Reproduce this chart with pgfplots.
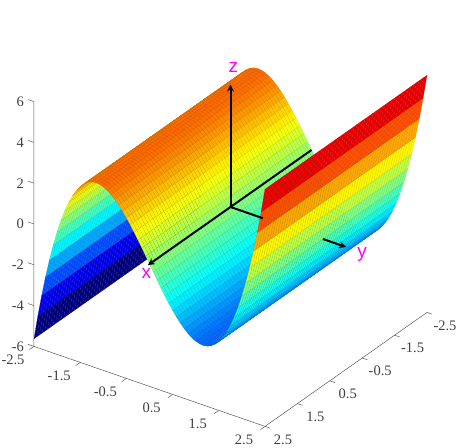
\documentclass[border=0pt]{standalone}
\usepackage{pgfplots}
\usepackage{pgfplotstable}
\pgfplotsset{compat=1.18}
\usepackage{fontspec}
\setmainfont{Liberation Serif}
\newfontfamily\lab{Liberation Sans}
\definecolor{axgray}{HTML}{5A5A5A}
\definecolor{txgray}{HTML}{404040}
\definecolor{labc}{HTML}{FF00FF}
\pgfplotsset{colormap={myjet}{rgb255=(0,0,128) rgb255=(0,0,255) rgb255=(0,128,255) rgb255=(0,255,255) rgb255=(128,255,128) rgb255=(255,255,0) rgb255=(255,128,0) rgb255=(255,0,0) rgb255=(128,0,0)}}
\pgfplotstableread{
s y z
0 -2.5 -5.625
1 -2.5 -5.625
0 -2.41667 -4.44733
1 -2.41667 -4.44733
0 -2.33333 -3.37037
1 -2.33333 -3.37037
0 -2.25 -2.39063
1 -2.25 -2.39063
0 -2.16667 -1.50463
1 -2.16667 -1.50463
0 -2.08333 -0.70892
1 -2.08333 -0.70892
0 -2 0
1 -2 0
0 -1.91667 0.62558
1 -1.91667 0.62558
0 -1.83333 1.1713
1 -1.83333 1.1713
0 -1.75 1.64063
1 -1.75 1.64063
0 -1.66667 2.03704
1 -1.66667 2.03704
0 -1.58333 2.364
1 -1.58333 2.364
0 -1.5 2.625
1 -1.5 2.625
0 -1.41667 2.8235
1 -1.41667 2.8235
0 -1.33333 2.96296
1 -1.33333 2.96296
0 -1.25 3.04688
1 -1.25 3.04688
0 -1.16667 3.0787
1 -1.16667 3.0787
0 -1.08333 3.06192
1 -1.08333 3.06192
0 -1 3
1 -1 3
0 -0.91667 2.89642
1 -0.91667 2.89642
0 -0.83333 2.75463
1 -0.83333 2.75463
0 -0.75 2.57813
1 -0.75 2.57813
0 -0.66667 2.37037
1 -0.66667 2.37037
0 -0.58333 2.13484
1 -0.58333 2.13484
0 -0.5 1.875
1 -0.5 1.875
0 -0.41667 1.59433
1 -0.41667 1.59433
0 -0.33333 1.2963
1 -0.33333 1.2963
0 -0.25 0.98438
1 -0.25 0.98438
0 -0.16667 0.66204
1 -0.16667 0.66204
0 -0.08333 0.33275
1 -0.08333 0.33275
0 0 0
1 0 0
0 0.08333 -0.33275
1 0.08333 -0.33275
0 0.16667 -0.66204
1 0.16667 -0.66204
0 0.25 -0.98438
1 0.25 -0.98438
0 0.33333 -1.2963
1 0.33333 -1.2963
0 0.41667 -1.59433
1 0.41667 -1.59433
0 0.5 -1.875
1 0.5 -1.875
0 0.58333 -2.13484
1 0.58333 -2.13484
0 0.66667 -2.37037
1 0.66667 -2.37037
0 0.75 -2.57813
1 0.75 -2.57813
0 0.83333 -2.75463
1 0.83333 -2.75463
0 0.91667 -2.89642
1 0.91667 -2.89642
0 1 -3
1 1 -3
0 1.08333 -3.06192
1 1.08333 -3.06192
0 1.16667 -3.0787
1 1.16667 -3.0787
0 1.25 -3.04688
1 1.25 -3.04688
0 1.33333 -2.96296
1 1.33333 -2.96296
0 1.41667 -2.8235
1 1.41667 -2.8235
0 1.5 -2.625
1 1.5 -2.625
0 1.58333 -2.364
1 1.58333 -2.364
0 1.66667 -2.03704
1 1.66667 -2.03704
0 1.75 -1.64063
1 1.75 -1.64063
0 1.83333 -1.1713
1 1.83333 -1.1713
0 1.91667 -0.62558
1 1.91667 -0.62558
0 2 0
1 2 0
0 2.08333 0.70892
1 2.08333 0.70892
0 2.16667 1.50463
1 2.16667 1.50463
0 2.25 2.39063
1 2.25 2.39063
0 2.33333 3.37037
1 2.33333 3.37037
0 2.41667 4.44733
1 2.41667 4.44733
0 2.5 5.625
1 2.5 5.625
}\prof
\begin{document}
\begin{tikzpicture}
\path[use as bounding box] (0,0) rectangle (463pt,447pt);
\begin{axis}[
  at={(230.5pt,240pt)}, anchor=origin,
  x={(-32.4pt,-22.8pt)}, y={(46.2pt,-16pt)}, z={(0pt,20.4pt)},
  xmin=-2.5,xmax=2.5,ymin=-2.5,ymax=2.5,zmin=-6,zmax=6,
  clip=false,
  axis line style={draw=none},
  xtick={-2.5,-1.5,-0.5,0.5,1.5,2.5},
  ytick={-2.5,-1.5,-0.5,0.5,1.5,2.5},
  ztick={-6,-4,-2,0,2,4,6},
  xticklabels={-2.5,-1.5,-0.5,0.5,1.5,2.5},
  yticklabels={-2.5,-1.5,-0.5,0.5,1.5,2.5},
  zticklabels={-6,-4,-2,0,2,4,6},
  tick style={draw=none},
  major tick length=0pt,
  ticklabel style={font=\fontsize{14.5}{14.5}\selectfont,text=txgray},
  xticklabel style={anchor=center,xshift=18pt,yshift=-13pt},
  yticklabel style={anchor=center,xshift=-21pt,yshift=-13.8pt},
  zticklabel style={anchor=east,xshift=-6.5pt},
  point meta min=-5.625, point meta max=5.625,
  colormap name=myjet,
  unbounded coords=jump,
]
\pgfplotsinvokeforeach{0,...,59}{
\addplot3[surf, shader=flat corner, draw=mapped color!80!black, line width=0.12pt, z buffer=default,
  mesh/rows=61, mesh/cols=2, point meta=z, forget plot]
  table[x expr=-2.5+(#1+\thisrow{s})/12, y=y, z=z] {\prof};
}
% box lines
\addplot3[axgray,line width=0.5pt,forget plot] coordinates {(-2.5,2.5,-6) (2.5,2.5,-6) (2.5,-2.5,-6) (2.5,-2.5,6)};
% tick marks on the three visible box edges
\addplot3[axgray,line width=0.5pt,forget plot] coordinates {
 (-2.5,2.5,-6) (-2.5,2.61,-6) (-2.5,2.61,nan)
 (-1.5,2.5,-6) (-1.5,2.61,-6) (-1.5,2.61,nan)
 (-0.5,2.5,-6) (-0.5,2.61,-6) (-0.5,2.61,nan)
 (0.5,2.5,-6) (0.5,2.61,-6) (0.5,2.61,nan)
 (1.5,2.5,-6) (1.5,2.61,-6) (1.5,2.61,nan)
 (2.5,2.5,-6) (2.5,2.61,-6)};
\addplot3[axgray,line width=0.5pt,forget plot] coordinates {
 (2.5,-2.5,-6) (2.64,-2.5,-6) (2.64,-2.5,nan)
 (2.5,-1.5,-6) (2.64,-1.5,-6) (2.64,-1.5,nan)
 (2.5,-0.5,-6) (2.64,-0.5,-6) (2.64,-0.5,nan)
 (2.5,0.5,-6) (2.64,0.5,-6) (2.64,0.5,nan)
 (2.5,1.5,-6) (2.64,1.5,-6) (2.64,1.5,nan)
 (2.5,2.5,-6) (2.64,2.5,-6)};
\addplot3[axgray,line width=0.5pt,forget plot] coordinates {
 (2.5,-2.5,-6) (2.5,-2.63,-6) (2.5,-2.63,nan)
 (2.5,-2.5,-4) (2.5,-2.63,-4) (2.5,-2.63,nan)
 (2.5,-2.5,-2) (2.5,-2.63,-2) (2.5,-2.63,nan)
 (2.5,-2.5,0) (2.5,-2.63,0) (2.5,-2.63,nan)
 (2.5,-2.5,2) (2.5,-2.63,2) (2.5,-2.63,nan)
 (2.5,-2.5,4) (2.5,-2.63,4) (2.5,-2.63,nan)
 (2.5,-2.5,6) (2.5,-2.63,6)};
% black axes
\addplot3[black,line width=2pt,-stealth,forget plot] coordinates {(0,0,0) (0,0,6)};
\addplot3[black,line width=2pt,-stealth,forget plot] coordinates {(-2.5,0,0) (2.55,0,0)};
\addplot3[black,line width=2pt,forget plot] coordinates {(0,0,0) (0,0.7,0)};
\addplot3[black,line width=2pt,-stealth,forget plot] coordinates {(0,2.0,0) (0,2.5,0)};
\node[text=labc,font=\lab\fontsize{19}{19}\selectfont] at (axis cs:0,0.06,6.9) {z};
\node[text=labc,font=\lab\fontsize{19}{19}\selectfont] at (axis cs:2.6,0,-0.36) {x};
\node[text=labc,font=\lab\fontsize{19}{19}\selectfont] at (axis cs:0,2.85,-0.1) {y};
\end{axis}
\end{tikzpicture}
\end{document}
